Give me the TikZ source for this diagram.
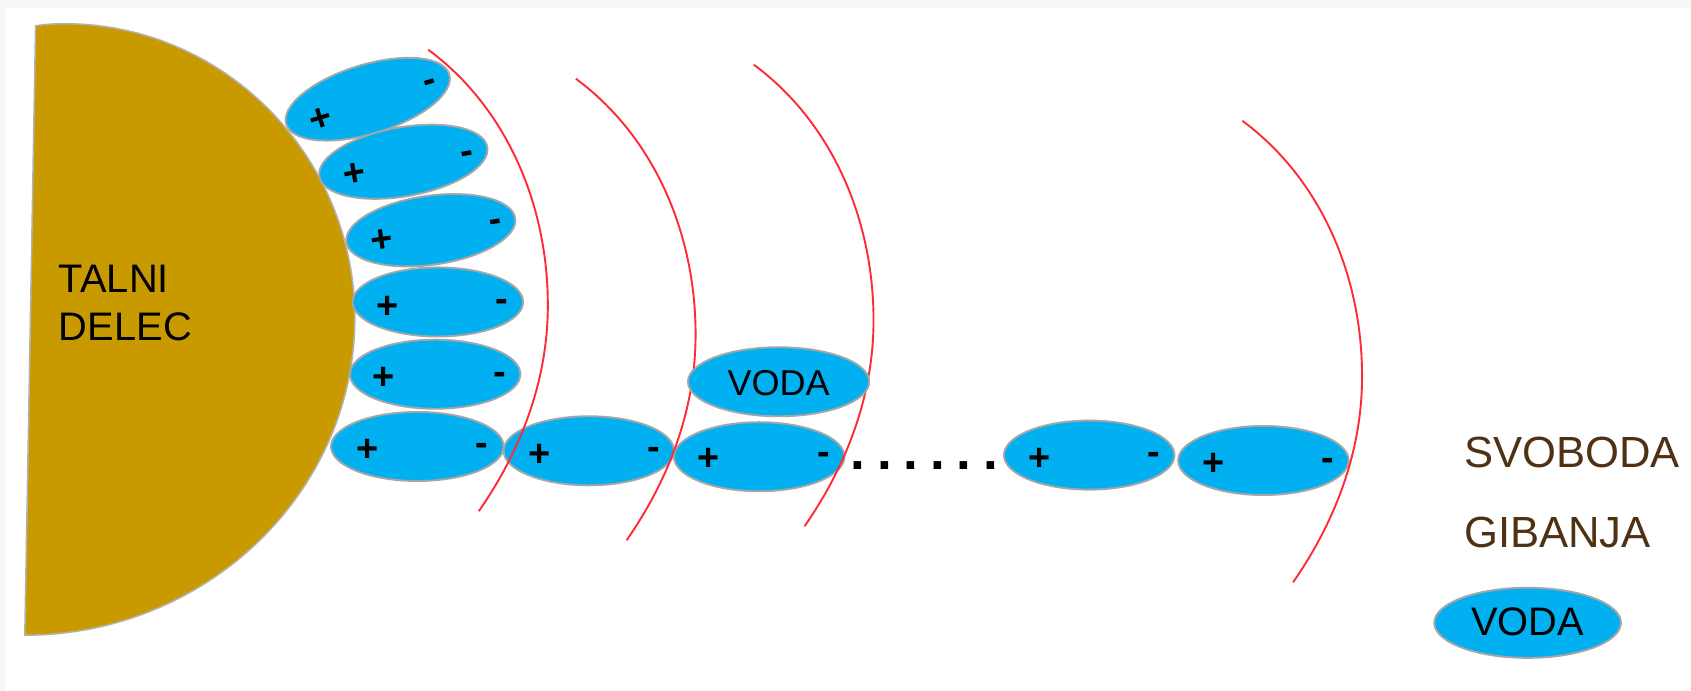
\documentclass[tikz,border=0pt]{standalone}
\usepackage{fontspec}
\setmainfont{Liberation Sans}
\usetikzlibrary{shapes}

\definecolor{talni}{HTML}{C99A00}
\definecolor{voda}{HTML}{00B0F0}
\definecolor{rjava}{HTML}{4F3113}
\definecolor{rdeca}{HTML}{FF2A35}

\newcommand{\lupina}{(397,46) .. controls (470,100) and (508,190) .. (508,283) .. controls (508,350) and (485,415) .. (444,474)}

\begin{document}
\begin{tikzpicture}[x=.01cm,y=-.01cm,
molekula/.style={ellipse,draw=black!35,line width=.5pt,fill=voda,inner sep=0pt,minimum width=1.58cm,minimum height=.64cm},
naboj/.style={inner sep=0pt,xshift=.3pt,yshift=-.8pt,font=\fontsize{10}{12}\selectfont\bfseries},
minus/.style={inner sep=0pt,xshift=.3pt,yshift=-1.3pt,font=\fontsize{10}{12}\selectfont\bfseries},
napis/.style={inner sep=0pt,align=left,font=\fontsize{10.5}{12.5}\selectfont},
svoboda/.style={inner sep=0pt,anchor=west,text=rjava,font=\fontsize{11.5}{13}\selectfont},
lupina/.style={draw=rdeca,line width=.5pt}]

\useasboundingbox (0,0) rectangle (1568,640.7);
\fill[black!3] (0,0) rectangle (1568,640.7);
\fill[white] (6,7) rectangle (1568,640.7);

% delec
\draw[draw=black!30,line width=.4pt,fill=talni] (33,24) .. controls (42,22.5) and (50,22) .. (60,22) .. controls (208,22) and (329,145) .. (329,295) .. controls (329,457) and (191,589) .. (23,589) -- cycle;
\node[napis,anchor=west](delec) at (54,281) {TALNI\\DELEC};

% molekule
\node[molekula,rotate=17](m1) at (341,92){};
\node[molekula,rotate=10](m2) at (374,150){};
\node[molekula,rotate=8](m3) at (399.5,213.5){};
\node[molekula](m4) at (406,280){};
\node[molekula](m5) at (403.5,347){};
\node[molekula,minimum width=1.6cm](m6) at (387,414){};
\node[molekula](m7) at (546,418){};
\node[molekula](m8) at (704,423.5){};
\node[molekula](m9) at (1010,422){};
\node[molekula](m10) at (1171.5,427){};

\draw[lupina] \lupina;
\draw[lupina,shift={(137,27)}] \lupina;
\draw[lupina,shift={(302,14)}] \lupina;
\draw[lupina,shift={(755,66)}] \lupina;

\node[molekula,minimum width=1.68cm](voda) at (722,354){};
\node[napis,font=\fontsize{9.5}{11}\selectfont] at (722,355) (voda-t) {VODA};

\node[naboj,rotate=17](p1) at (296,108){+};
\node[minus,rotate=17](n1) at (398,75){-};
\node[naboj,rotate=10](p2) at (328,159){+};
\node[minus,rotate=10](n2) at (433,141){-};
\node[naboj,rotate=8](p3) at (353,221){+};
\node[minus,rotate=8](n3) at (459,205){-};
\node[naboj](p4) at (358,282){+};
\node[minus](n4) at (464,279){-};
\node[naboj](p5) at (355,348){+};
\node[minus](n5) at (462,346){-};
\node[naboj](p6) at (340,415){+};
\node[minus](n6) at (446,412){-};
\node[naboj](p7) at (499,419){+};
\node[minus](n7) at (605,416){-};
\node[naboj](p8) at (656,423){+};
\node[minus](n8) at (763,421){-};
\node[naboj](p9) at (963,423){+};
\node[minus](n9) at (1069,421){-};
\node[naboj](p10) at (1124,428){+};
\node[minus](n10) at (1230,426){-};

% pike
\node[inner sep=0pt,font=\fontsize{14}{16}\selectfont\bfseries](pike) at (857,432){.\hspace{3.1pt}.\hspace{3.1pt}.\hspace{3.1pt}.\hspace{3.1pt}.\hspace{3.1pt}.};

% legenda
\node[svoboda](s1) at (1357,420){SVOBODA};
\node[svoboda](s2) at (1357,494){GIBANJA};
\node[molekula,minimum width=1.73cm,minimum height=.65cm](legenda) at (1416.5,577.5){};
\node[napis] at (1416.5,577) (legenda-t) {VODA};
\end{tikzpicture}
\end{document}
